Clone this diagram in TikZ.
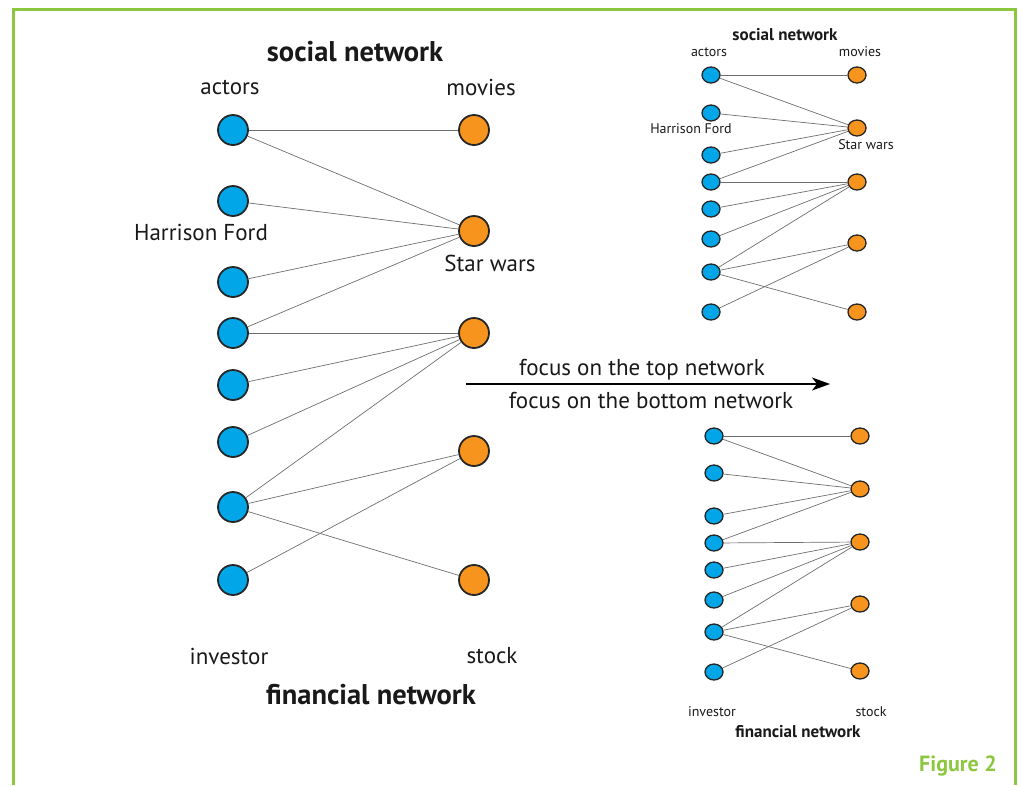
\documentclass[tikz,border=0pt]{standalone}
\usepackage{fontspec}
\setmainfont{PT Sans}
\usetikzlibrary{shapes.geometric,arrows.meta}
\definecolor{actorblue}{RGB}{0,166,232}
\definecolor{movieorange}{RGB}{247,148,29}
\definecolor{framegreen}{RGB}{141,198,63}
\definecolor{edgegray}{RGB}{110,110,110}
\tikzset{
  bigactor/.style={circle,draw=black!85,line width=1.8pt,fill=actorblue,minimum size=30pt,inner sep=0pt},
  bigmovie/.style={circle,draw=black!85,line width=1.8pt,fill=movieorange,minimum size=30pt,inner sep=0pt},
  smallactor/.style={ellipse,draw=black!85,line width=1.3pt,fill=actorblue,minimum width=18pt,minimum height=16pt,inner sep=0pt},
  smallmovie/.style={ellipse,draw=black!85,line width=1.3pt,fill=movieorange,minimum width=18pt,minimum height=16pt,inner sep=0pt},
  edge/.style={draw=edgegray,line width=0.7pt},
  bigtxt/.style={font=\fontsize{23}{26}\selectfont,text=black!90},
  bigtitle/.style={font=\fontsize{28.5}{32}\selectfont\bfseries,text=black!90},
  smalltxt/.style={font=\fontsize{14}{16}\selectfont,text=black!90},
  smalltitle/.style={font=\fontsize{17}{19}\selectfont\bfseries,text=black!90},
}
\begin{document}
\begin{tikzpicture}[x=1pt,y=-1pt]
\useasboundingbox (0,0) rectangle (1022,785);
% frame
\draw[framegreen,line width=3pt] (13,785) -- (13,9) -- (1015,9) -- (1015,785);
\node[font=\fontsize{22}{26}\selectfont\bfseries,text=framegreen] (fig) at (958,766) {Figure 2};

% ---------- big network ----------
\foreach \i/\y in {1/130,2/201,3/282,4/333,5/385,6/442,7/507,8/580}
  \node[bigactor] (La\i) at (233,\y) {};
\foreach \i/\y in {1/130,2/231,3/333,4/451,5/580}
  \node[bigmovie] (Lm\i) at (474,\y) {};
\foreach \a/\m in {1/1,1/2,2/2,3/2,4/2,4/3,5/3,6/3,7/3,7/4,7/5,8/4}
  \draw[edge] (La\a) -- (Lm\m);
\node[bigtitle] (Ltitle) at (355,52) {social network};
\node[bigtxt] (Lact) at (230,87) {actors};
\node[bigtxt] (Lmov) at (481,87) {movies};
\node[bigtxt] (Lhf) at (201,232) {Harrison Ford};
\node[bigtxt] (Lsw) at (490,263) {Star wars};
\node[bigtxt] (Linv) at (229,656) {investor};
\node[bigtxt] (Lstk) at (492,656) {stock};
\node[bigtitle] (Lfin) at (371,695) {financial network};

% ---------- arrow ----------
\coordinate (arrS) at (466,384);
\coordinate (arrE) at (830,384);
\draw[line width=1.4pt,-{Stealth[length=18pt,width=13pt,inset=5pt]}] (arrS) -- (arrE);
\node[bigtxt] (ftop) at (642,370) {focus on the top network};
\node[bigtxt] (fbot) at (651,401) {focus on the bottom network};

% ---------- top small network ----------
\foreach \i/\y in {1/75,2/113,3/155,4/182,5/209,6/239,7/272,8/312}
  \node[smallactor] (Ta\i) at (711,\y) {};
\foreach \i/\y in {1/75,2/128,3/182,4/243,5/312}
  \node[smallmovie] (Tm\i) at (857,\y) {};
\foreach \a/\m in {1/1,1/2,2/2,3/2,4/2,4/3,5/3,6/3,7/3,7/4,7/5,8/4}
  \draw[edge] (Ta\a) -- (Tm\m);
\node[smalltitle] (Ttitle) at (785,35) {social network};
\node[smalltxt] (Tact) at (709,52) {actors};
\node[smalltxt] (Tmov) at (860,52) {movies};
\node[smalltxt] (Thf) at (691,129) {Harrison Ford};
\node[smalltxt] (Tsw) at (866,145) {Star wars};

% ---------- bottom small network ----------
\foreach \i/\y in {1/436,2/473,3/516,4/543,5/570,6/600,7/632,8/672}
  \node[smallactor] (Ba\i) at (714,\y) {};
\foreach \i/\y in {1/436,2/489,3/542,4/604,5/671}
  \node[smallmovie] (Bm\i) at (860,\y) {};
\foreach \a/\m in {1/1,1/2,2/2,3/2,4/2,4/3,5/3,6/3,7/3,7/4,7/5,8/4}
  \draw[edge] (Ba\a) -- (Bm\m);
\node[smalltxt] (Binv) at (712,712) {investor};
\node[smalltxt] (Bstk) at (871,712) {stock};
\node[smalltitle] (Bfin) at (798,732) {financial network};
\end{tikzpicture}
\end{document}
